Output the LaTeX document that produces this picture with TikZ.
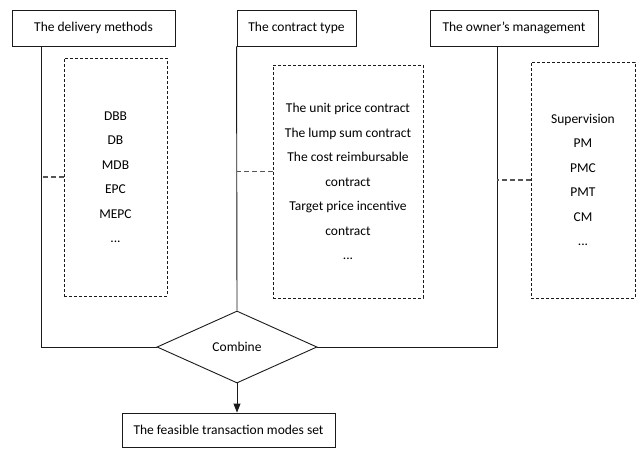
\documentclass[tikz,border=0pt]{standalone}
\usepackage{fontspec}
\setmainfont{Carlito}
\usepackage{tikz}
\usetikzlibrary{arrows.meta,positioning,shapes.geometric}
\definecolor{ink}{HTML}{1A1A1A}
\definecolor{dashink}{HTML}{555555}

\begin{document}
\begin{tikzpicture}[
x=1pt, y=-1pt,
font=\fontsize{13.5}{24.5}\selectfont,
box/.style={draw=ink, line width=0.9pt, inner sep=0pt, minimum height=36pt},
listbox/.style={draw=ink, line width=0.6pt, dash pattern=on 3pt off 2pt, inner sep=0pt, align=center},
line/.style={draw=ink, line width=0.9pt},
link/.style={draw=dashink, line width=1.6pt, dash pattern=on 5pt off 3pt},
arrow/.style={-{Triangle[length=9pt, width=7pt]}, line width=0.9pt, draw=ink}
]
\useasboundingbox (0,0) rectangle (638,448);
\node[box, minimum width=163pt] (delivery) at (93.5,28) {The delivery methods};
\node[box, minimum width=119pt] (contract) at (296.5,28) {The contract type};
\node[box, minimum width=168pt] (owner) at (514,28) {The owner’s management};
\node[listbox, minimum width=103pt, minimum height=238pt] (dlist) at (115.5,177) {DBB\\DB\\MDB\\EPC\\MEPC\\...};
\node[listbox, minimum width=150pt, minimum height=233pt] (clist) at (348,181.5) {The unit price contract\\The lump sum contract\\The cost reimbursable\\contract\\Target price incentive\\contract\\...};
\node[listbox, minimum width=104pt, minimum height=236pt] (olist) at (583,180) {Supervision\\PM\\PMC\\PMT\\CM\\...};
\node[diamond, draw=ink, line width=0.9pt, minimum width=160pt, minimum height=72pt, aspect=2.2, inner sep=0pt] (combine) at (237,347) {Combine};
\node[box, minimum width=213pt, minimum height=34pt] (feasible) at (228.5,430) {The feasible transaction modes set};
\coordinate (t1) at ([xshift=-52.5pt]delivery.south);
\coordinate (t3) at ([xshift=-17pt]owner.south);
\draw[line] (t1) |- (combine.west);
\draw[line] (contract.south west) -- (combine.north);
\draw[line] (t3) |- (combine.east);
\draw[link] (dlist.west) -- (dlist.west -| t1);
\draw[link] ([yshift=10pt]clist.west) -- ([yshift=10pt]clist.west -| contract.south west);
\draw[link] (olist.west) -- (olist.west -| t3);
\draw[arrow] (combine.south) -- (combine.south |- feasible.north);
\end{tikzpicture}
\end{document}
